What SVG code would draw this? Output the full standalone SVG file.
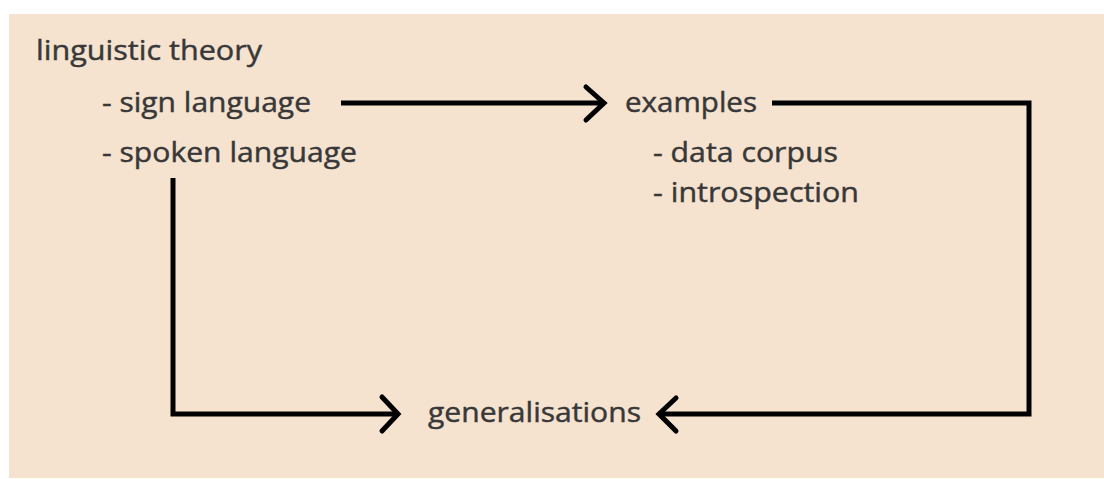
<svg xmlns="http://www.w3.org/2000/svg" width="1104" height="479" viewBox="0 0 1104 479">
<style>
.t{font-family:"Open Sans","Liberation Sans",sans-serif;font-size:28px;fill:#383838;stroke:#383838;stroke-width:0.45}
.c{fill:none;stroke:#000;stroke-width:5;stroke-linejoin:miter}
.h{fill:none;stroke:#000;stroke-width:5;stroke-linecap:round;stroke-linejoin:miter}
</style>
<rect x="0" y="0" width="1104" height="479" fill="#ffffff"/>
<rect x="9" y="14" width="1095" height="464" fill="#F5E3D0"/>
<g id="theory">
<text class="t" x="36" y="60" textLength="226" lengthAdjust="spacingAndGlyphs">linguistic theory</text>
<text class="t" x="102" y="112" textLength="209" lengthAdjust="spacingAndGlyphs">- sign language</text>
<text class="t" x="102" y="162" textLength="255" lengthAdjust="spacingAndGlyphs">- spoken language</text>
</g>
<g id="examples">
<text class="t" x="625" y="112" textLength="132" lengthAdjust="spacingAndGlyphs">examples</text>
<text class="t" x="653" y="162" textLength="185" lengthAdjust="spacingAndGlyphs">- data corpus</text>
<text class="t" x="653" y="202" textLength="206" lengthAdjust="spacingAndGlyphs">- introspection</text>
</g>
<g id="generalisations">
<text class="t" x="428" y="422" textLength="213" lengthAdjust="spacingAndGlyphs">generalisations</text>
</g>
<g id="connectors">
<line class="c" x1="341" y1="103" x2="603" y2="103"/>
<polyline class="h" points="586,87 604,103 586,120"/>
<polyline class="c" points="772,103 1029,103 1029,414 659,414"/>
<polyline class="h" points="676,398 659,414 676,431"/>
<polyline class="c" points="173,178 173,414 396,414"/>
<polyline class="h" points="382,397 398,414 382,431"/>
</g>
</svg>
